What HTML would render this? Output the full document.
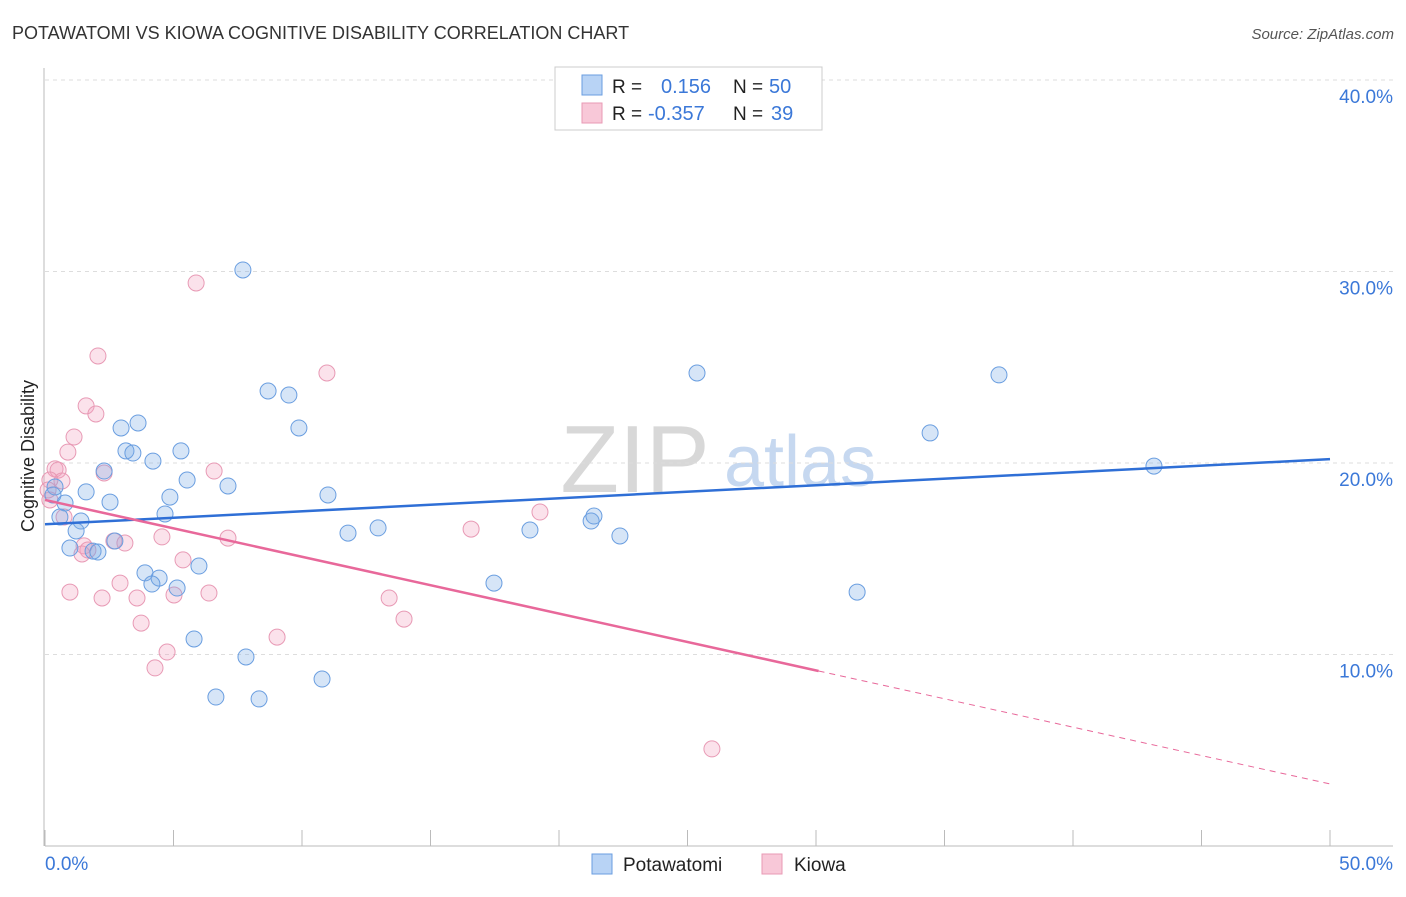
<!DOCTYPE html>
<html><head><meta charset="utf-8"><style>
body{margin:0;background:#fff;font-family:"Liberation Sans",sans-serif;}
svg text{font-family:"Liberation Sans",sans-serif;}
</style></head><body>
<svg id="chart" width="1406" height="892" xmlns="http://www.w3.org/2000/svg">
<text x="12" y="39" font-size="18" fill="#333">POTAWATOMI VS KIOWA COGNITIVE DISABILITY CORRELATION CHART</text>
<text x="1394" y="39" font-size="15" fill="#555" font-style="italic" text-anchor="end">Source: ZipAtlas.com</text>
<g>
<text x="635" y="492" font-size="96" fill="#d8d8d8" font-family="Liberation Serif" text-anchor="middle">ZIP</text>
<text x="800" y="486" font-size="72" fill="#c6d8f0" text-anchor="middle">atlas</text>
</g>
<g id="grid"></g>
<g id="axes"></g>
<g id="marks"></g>
<text x="34" y="456" font-size="18" fill="#222" text-anchor="middle" transform="rotate(-90 34 456)">Cognitive Disability</text>
<g>
<rect x="555" y="67" width="267" height="63" fill="#fff" stroke="#ccc"/>
<rect x="582" y="75" width="20" height="20" fill="#b8d3f5" stroke="#6a9ee0"/>
<rect x="582" y="103" width="20" height="20" fill="#f8c8d8" stroke="#e89ab5"/>
<text x="612" y="93" font-size="19" fill="#222">R =</text>
<text x="661" y="93" font-size="20" fill="#3b78d8">0.156</text>
<text x="733" y="93" font-size="19" fill="#222">N =</text>
<text x="769" y="93" font-size="20" fill="#3b78d8">50</text>
<text x="612" y="120" font-size="19" fill="#222">R =</text>
<text x="648" y="120" font-size="20" fill="#3b78d8">-0.357</text>
<text x="733" y="120" font-size="19" fill="#222">N =</text>
<text x="771" y="120" font-size="20" fill="#3b78d8">39</text>
</g>
<g>
<rect x="592" y="854" width="20" height="20" fill="#b8d3f5" stroke="#6a9ee0"/>
<text x="623" y="871" font-size="19" fill="#222">Potawatomi</text>
<rect x="762" y="854" width="20" height="20" fill="#f8c8d8" stroke="#e89ab5"/>
<text x="794" y="871" font-size="19" fill="#222">Kiowa</text>
</g>
</svg>
<script>
const yTicks=[10,20,30,40];
const yTickLabels=["10.0%","20.0%","30.0%","40.0%"];
const xTickLabels=["0.0%","50.0%"];
const blueX=[7.70,25.37,37.12,8.68,9.49,3.62,2.96,9.88,34.44,3.15,3.42,5.29,4.20,2.30,5.53,7.12,0.39,1.60,4.86,11.01,0.31,2.53,0.78,43.15,4.67,0.58,1.40,1.21,12.96,11.79,18.87,21.25,21.36,22.37,2.72,0.97,1.87,2.06,5.99,3.89,4.44,4.16,5.14,17.47,31.60,5.80,7.82,10.78,6.65,8.33];
const blueY=[30.08,24.70,24.60,23.76,23.55,22.09,21.83,21.83,21.57,20.63,20.52,20.63,20.10,19.58,19.11,18.80,18.75,18.49,18.22,18.33,18.33,17.96,17.91,19.84,17.34,17.18,16.97,16.45,16.61,16.34,16.50,16.97,17.23,16.19,15.93,15.56,15.40,15.35,14.62,14.26,13.99,13.68,13.47,13.73,13.26,10.81,9.87,8.72,7.78,7.68];
const pinkX=[5.88,2.06,10.97,1.60,1.98,1.13,0.89,0.39,0.51,2.30,6.58,0.66,0.19,0.74,19.26,16.58,4.55,7.12,2.68,3.11,1.52,1.67,5.37,1.44,2.92,0.97,2.22,3.58,6.38,5.02,13.39,13.97,3.74,9.03,4.75,4.28,25.95,0.19,0.12];
const pinkY=[29.40,25.59,24.70,22.98,22.56,21.36,20.57,19.69,19.63,19.48,19.58,19.06,19.11,17.18,17.44,16.55,16.14,16.08,15.93,15.82,15.67,15.46,14.94,15.25,13.73,13.26,12.95,12.95,13.21,13.11,12.95,11.85,11.64,10.91,10.13,9.30,5.07,18.07,18.59];
const blueTrend=[16.8,20.2];
const pinkTrend=[18.07,9.14,3.24];
const pinkSolidEnd=30.1;

const NS="http://www.w3.org/2000/svg";
const sx=v=>45+v*25.7;
const sy=v=>846-v*19.15;
function mk(tag,attrs,parent){const e=document.createElementNS(NS,tag);for(const k in attrs)e.setAttribute(k,attrs[k]);parent.appendChild(e);return e;}
const grid=document.getElementById('grid'),axes=document.getElementById('axes'),marks=document.getElementById('marks');
yTicks.forEach((t,i)=>{
 const l=mk('line',{x1:45,x2:1393,y1:sy(t),y2:sy(t),stroke:'#ddd','stroke-dasharray':'4,4'},grid);
 
 
 const tx=mk('text',{x:1393,y:sy(t)+23,'font-size':19,fill:'#3b78d8','text-anchor':'end'},axes);
 tx.textContent=yTickLabels[i];
 
 
});
const xa=mk('line',{x1:45,x2:1393,y1:846,y2:846,stroke:'#bbb'},axes);


const ya=mk('line',{x1:44,x2:44,y1:68,y2:846,stroke:'#bbb'},axes);


for(let i=0;i<=10;i++){
 const t=mk('line',{x1:sx(i*5),x2:sx(i*5),y1:830,y2:846,stroke:'#bbb'},axes);
 
 
}
[[0,'start',45],[50,'end',1393]].forEach((d,i)=>{
 const t=mk('text',{x:d[2],y:870,'font-size':19,fill:'#3b78d8','text-anchor':d[1]},axes);
 t.textContent=xTickLabels[i];
 
 
});
pinkX.forEach((x,i)=>{
 const c=mk('circle',{cx:sx(x),cy:sy(pinkY[i]),r:8,fill:'rgba(242,160,190,0.3)',stroke:'#e89ab5','stroke-width':1},marks);
 
 
});
blueX.forEach((x,i)=>{
 const c=mk('circle',{cx:sx(x),cy:sy(blueY[i]),r:8,fill:'rgba(120,170,230,0.3)',stroke:'#6a9ee0','stroke-width':1},marks);
 
 
});
const bl=mk('line',{x1:sx(0),y1:sy(blueTrend[0]),x2:sx(50),y2:sy(blueTrend[1]),stroke:'#2f6fd6','stroke-width':2.5},marks);


const pl=mk('line',{x1:sx(0),y1:sy(pinkTrend[0]),x2:sx(pinkSolidEnd),y2:sy(pinkTrend[1]),stroke:'#e8689a','stroke-width':2.5},marks);


const pd=mk('line',{x1:sx(pinkSolidEnd),y1:sy(pinkTrend[1]),x2:sx(50),y2:sy(pinkTrend[2]),stroke:'#e8689a','stroke-width':1,'stroke-dasharray':'6,5'},marks);


</script>
</body></html>
